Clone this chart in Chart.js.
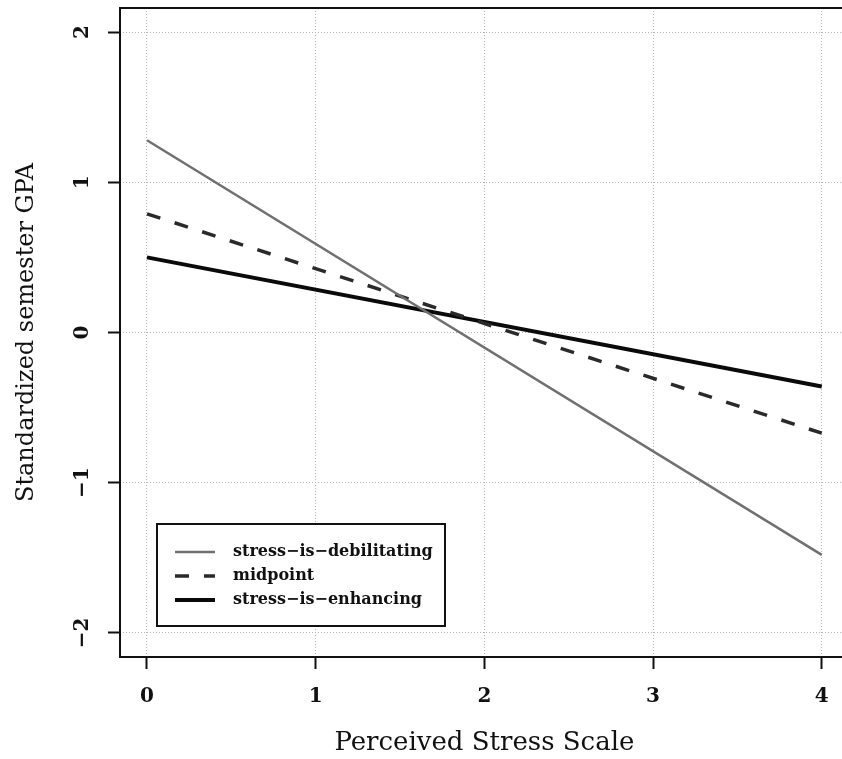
<!DOCTYPE html>
<html>
<head>
<meta charset="utf-8">
<script src="https://cdn.jsdelivr.net/npm/chart.js@4.4.1/dist/chart.umd.min.js"></script>
<style>
  html, body { margin: 0; padding: 0; background: #fff; overflow: hidden; }
  #wrap { position: relative; width: 842px; height: 759px; }
</style>
</head>
<body>
<div id="wrap"><canvas id="gpaChart"></canvas></div>
<script>
// data (two end points of each fitted line)
const xValues = [0, 4];
const debilitating = [1.28, -1.48];
const midpoint = [0.79, -0.67];
const enhancing = [0.5, -0.36];

const seriesLabels = ['stress\u2212is\u2212debilitating', 'midpoint', 'stress\u2212is\u2212enhancing'];
const xTicks = [0, 1, 2, 3, 4];
const yTicks = [-2, -1, 0, 1, 2];
const xTitle = 'Perceived Stress Scale';
const yTitle = 'Standardized semester GPA';

const SERIF = '"DejaVu Serif", "Liberation Serif", serif';

const toPoints = ys => ys.map((y, i) => ({ x: xValues[i], y: y }));

// box, tick labels, axis titles and legend drawn R-style
const rStyle = {
    id: 'rStyle',
    afterDraw(chart) {
        const ctx = chart.ctx;
        const area = chart.chartArea;
        const xs = chart.scales.x;
        const ys = chart.scales.y;
        ctx.save();

        // plot box (right side falls off the page in the original)
        ctx.strokeStyle = '#111';
        ctx.lineWidth = 2;
        ctx.setLineDash([]);
        ctx.beginPath();
        ctx.moveTo(area.right + 2, area.top);
        ctx.lineTo(area.left, area.top);
        ctx.lineTo(area.left, area.bottom);
        ctx.lineTo(area.right + 2, area.bottom);
        ctx.stroke();

        // tick labels
        ctx.fillStyle = '#111';
        ctx.font = 'bold 20px ' + SERIF;
        ctx.textAlign = 'center';
        ctx.textBaseline = 'middle';
        xTicks.forEach(v => {
            ctx.fillText(String(v), xs.getPixelForValue(v), 697);
        });
        yTicks.forEach(v => {
            ctx.save();
            ctx.translate(83, ys.getPixelForValue(v));
            ctx.rotate(-Math.PI / 2);
            ctx.fillText(v < 0 ? '\u2212' + Math.abs(v) : String(v), 0, 0);
            ctx.restore();
        });

        // axis titles
        ctx.font = '26px ' + SERIF;
        ctx.fillText(xTitle, xs.getPixelForValue(2), 743);
        ctx.font = '24px ' + SERIF;
        ctx.save();
        ctx.translate(27, ys.getPixelForValue(0));
        ctx.rotate(-Math.PI / 2);
        ctx.fillText(yTitle, 0, 0);
        ctx.restore();

        // legend
        const lx = 157, ly = 524, lw = 288, lh = 102;
        ctx.fillStyle = '#fff';
        ctx.fillRect(lx, ly, lw, lh);
        ctx.strokeStyle = '#111';
        ctx.lineWidth = 2;
        ctx.strokeRect(lx, ly, lw, lh);
        ctx.font = 'bold 16px ' + SERIF;
        ctx.textAlign = 'left';
        chart.data.datasets.forEach((ds, i) => {
            const rowY = 552 + i * 24;
            ctx.strokeStyle = ds.borderColor;
            ctx.lineWidth = ds.borderWidth;
            ctx.setLineDash(ds.borderDash || []);
            ctx.beginPath();
            ctx.moveTo(175, rowY);
            ctx.lineTo(215, rowY);
            ctx.stroke();
            ctx.setLineDash([]);
            ctx.fillStyle = '#111';
            ctx.fillText(ds.label, 233, rowY);
        });
        ctx.restore();
    }
};

new Chart(document.getElementById('gpaChart'), {
    type: 'line',
    data: {
        datasets: [
            {
                label: seriesLabels[0],
                data: toPoints(debilitating),
                borderColor: '#707070',
                borderWidth: 2.5,
                pointRadius: 0,
                fill: false
            },
            {
                label: seriesLabels[1],
                data: toPoints(midpoint),
                borderColor: '#2a2a2a',
                borderWidth: 3.5,
                borderDash: [14, 15],
                pointRadius: 0,
                fill: false
            },
            {
                label: seriesLabels[2],
                data: toPoints(enhancing),
                borderColor: '#0a0a0a',
                borderWidth: 4,
                pointRadius: 0,
                fill: false
            }
        ]
    },
    options: {
        responsive: true,
        maintainAspectRatio: false,
        animation: false,
        layout: { padding: { left: 0, top: 8, right: 0, bottom: 0 } },
        plugins: {
            legend: { display: false },
            tooltip: { enabled: false }
        },
        scales: {
            x: {
                type: 'linear',
                min: -0.16,
                max: 4.12,
                afterBuildTicks: s => { s.ticks = xTicks.map(v => ({ value: v })); },
                afterFit: s => { s.height = 102; },
                ticks: { display: false },
                grid: {
                    color: '#b5b5b5',
                    lineWidth: 1,
                    drawTicks: true,
                    tickLength: 12,
                    tickColor: '#111',
                    tickWidth: 2,
                    tickBorderDash: []
                },
                border: { display: false, dash: [1, 2] }
            },
            y: {
                type: 'linear',
                min: -2.16,
                max: 2.16,
                afterBuildTicks: s => { s.ticks = yTicks.map(v => ({ value: v })); },
                afterFit: s => { s.width = 120; },
                ticks: { display: false },
                grid: {
                    color: '#b5b5b5',
                    lineWidth: 1,
                    drawTicks: true,
                    tickLength: 12,
                    tickColor: '#111',
                    tickWidth: 2,
                    tickBorderDash: []
                },
                border: { display: false, dash: [1, 2] }
            }
        }
    },
    plugins: [rStyle]
});
</script>
</body>
</html>
